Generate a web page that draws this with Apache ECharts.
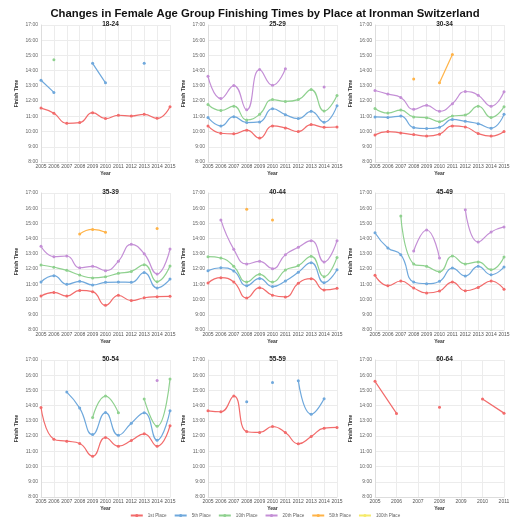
<!DOCTYPE html>
<html><head><meta charset="utf-8">
<script src="https://cdn.jsdelivr.net/npm/echarts@6/dist/echarts.min.js"></script>
<style>html,body{margin:0;padding:0;background:#fff}#c{width:530px;height:530px}</style>
</head><body><div id="c"></div>
<script>
const years = ['2005','2006','2007','2008','2009','2010','2011','2012','2013','2014','2015'];
const years6064 = ['2005','2006','2007','2008','2009','2010','2011'];
const places = ['1st Place','5th Place','10th Place','20th Place','50th Place','100th Place'];
const placeColors = ['#f26b6b','#6fa8dc','#8fd18f','#c48fd6','#ffb347','#f5ea6a'];
const yTicks = [8,9,10,11,12,13,14,15,16,17];
const groups = ['18-24','25-29','30-34','35-39','40-44','45-49','50-54','55-59','60-64'];

// values in hours, null = no finisher at that place
const g1824_1st = [11.54,11.2,10.54,10.59,11.24,10.85,11.07,11.02,11.13,10.87,11.63];
const g1824_5th = [13.37,12.57,null,null,14.48,13.2,null,null,14.48,null,null];
const g1824_10th = [null,14.72,null,null,null,null,null,null,null,null,null];

const g2529_1st = [10.37,9.89,9.85,10.09,9.57,10.37,10.24,10.0,10.46,10.28,10.3];
const g2529_5th = [10.93,10.37,10.98,10.59,10.63,11.5,11.11,10.85,11.33,10.61,11.7];
const g2529_10th = [11.78,11.39,11.67,10.76,11.13,12.1,11.98,12.1,12.76,11.35,12.37];
const g2529_20th = [13.63,12.17,13.02,11.43,14.07,13.04,14.13,null,null,12.93,null];

const g3034_1st = [9.78,10.0,9.91,9.8,9.7,9.83,10.37,10.3,9.87,9.7,10.0];
const g3034_5th = [10.96,10.93,11.02,10.26,10.2,10.28,10.8,10.67,10.52,10.22,11.13];
const g3034_10th = [11.52,11.22,11.41,10.96,10.91,10.65,11.02,11.09,11.67,10.93,11.63];
const g3034_20th = [12.7,12.46,12.24,11.46,11.72,11.33,11.83,12.63,12.39,11.67,12.61];
const g3034_50th = [null,null,null,13.46,null,13.2,15.07,null,null,null,null];

const g3539_1st = [10.23,10.47,10.23,10.6,10.52,9.62,10.28,9.93,10.12,10.19,10.21];
const g3539_5th = [11.15,11.57,11.0,11.2,10.96,11.13,11.15,11.13,11.77,10.76,11.35];
const g3539_10th = [12.27,12.12,11.92,11.61,11.42,11.5,11.72,11.85,12.29,11.17,12.2];
const g3539_20th = [13.5,12.82,12.86,12.09,12.18,11.9,12.51,13.63,13.01,11.68,13.32];
const g3539_50th = [null,null,null,14.31,14.61,14.42,null,null,null,14.66,null];

const g4044_1st = [11.09,11.44,11.15,10.1,10.78,10.28,10.17,11.07,11.37,10.63,10.74];
const g4044_5th = [11.9,12.09,11.88,10.91,11.39,10.85,11.22,11.79,12.42,11.11,11.96];
const g4044_10th = [12.82,12.73,12.18,11.15,11.66,11.15,11.94,12.23,12.84,11.5,12.77];
const g4044_20th = [null,15.23,13.3,12.34,12.51,12.03,12.95,13.43,13.87,12.47,13.87];
const g4044_50th = [null,null,null,15.93,null,15.23,null,null,null,null,null];

const g4549_1st = [11.59,10.91,11.22,10.76,10.43,10.56,11.15,10.58,10.8,11.22,10.67];
const g4549_5th = [14.39,13.39,12.95,11.15,11.04,11.2,12.07,11.55,12.18,11.63,12.14];
const g4549_10th = [null,null,15.49,12.34,12.18,11.83,12.86,12.34,12.47,11.96,12.8];
const g4549_20th = [null,null,null,13.19,14.57,12.73,null,15.9,13.78,14.44,14.77];

const g5054_1st = [13.88,11.8,11.67,11.51,10.68,11.91,11.34,11.71,12.15,11.34,12.68];
const g5054_5th = [null,null,14.89,13.84,12.1,13.55,12.06,12.85,13.53,11.73,13.66];
const g5054_10th = [null,null,null,null,13.22,14.63,13.53,null,14.43,12.65,15.75];
const g5054_20th = [null,null,null,null,null,null,null,null,null,15.66,null];

const g5559_1st = [13.66,13.6,14.63,12.3,12.24,12.63,12.24,11.49,11.97,12.52,12.57];
const g5559_5th = [null,null,null,14.26,null,15.53,null,15.64,13.44,14.45,null];

const g6064_1st = [15.6,13.49,null,13.9,null,14.43,13.51];

const panelSeries = [
  [g1824_1st,g1824_5th,g1824_10th],
  [g2529_1st,g2529_5th,g2529_10th,g2529_20th],
  [g3034_1st,g3034_5th,g3034_10th,g3034_20th,g3034_50th],
  [g3539_1st,g3539_5th,g3539_10th,g3539_20th,g3539_50th],
  [g4044_1st,g4044_5th,g4044_10th,g4044_20th,g4044_50th],
  [g4549_1st,g4549_5th,g4549_10th,g4549_20th],
  [g5054_1st,g5054_5th,g5054_10th,g5054_20th],
  [g5559_1st,g5559_5th],
  [g6064_1st]
];
const panelYears = [years,years,years,years,years,years,years,years,years6064];

const colLeft = [41,208,375], rowTop = [25,193,360];
const W = 129, H = 137;
const FONT = 'Liberation Sans';
const grids=[], xAxes=[], yAxes=[], series=[], titles=[];
titles.push({text:'Changes in Female Age Group Finishing Times by Place at Ironman Switzerland',
  left:'center', top:3, textStyle:{fontFamily:FONT,fontSize:11.3,fontWeight:'bold',color:'#111'}});
groups.forEach((g,i)=>{
  const c=i%3, r=Math.floor(i/3);
  grids.push({left:colLeft[c], top:rowTop[r], width:W, height:H});
  titles.push({text:g, left:colLeft[c]+W/2, top:rowTop[r]-9, textAlign:'center',
    textStyle:{fontFamily:FONT,fontSize:6.5,fontWeight:'bold',color:'#222'}});
  xAxes.push({type:'category', gridIndex:i, data:panelYears[i], boundaryGap:false,
    name:'Year', nameLocation:'middle', nameGap:9,
    nameTextStyle:{fontFamily:FONT,fontSize:5,fontWeight:'bold',color:'#333'},
    axisLine:{lineStyle:{color:'#ddd'}}, axisTick:{show:false},
    axisLabel:{fontFamily:FONT,fontSize:5,color:'#555',margin:2,interval:0},
    splitLine:{show:true,lineStyle:{color:'#ececec',width:1}}});
  yAxes.push({type:'value', gridIndex:i, min:yTicks[0], max:yTicks[yTicks.length-1], interval:1,
    name:'Finish Time', nameLocation:'middle', nameGap:22,
    nameTextStyle:{fontFamily:FONT,fontSize:5,fontWeight:'bold',color:'#333'},
    axisLine:{show:true,lineStyle:{color:'#ddd'}}, axisTick:{show:false},
    axisLabel:{fontFamily:FONT,fontSize:5,color:'#666',margin:3,formatter:v=>v+':00'},
    splitLine:{show:true,lineStyle:{color:'#ececec',width:1}}});
  panelSeries[i].forEach((d,k)=>{
    series.push({name:places[k], type:'line', xAxisIndex:i, yAxisIndex:i, data:d,
      smooth:0.5, connectNulls:false, symbol:'circle', symbolSize:3, showSymbol:true,
      itemStyle:{color:placeColors[k]}, lineStyle:{width:1.2,color:placeColors[k]},
      emphasis:{disabled:true}, animation:false});
  });
});
// ensure every place appears in legend
places.forEach((p,k)=>{
  if(!series.some(s=>s.name===p)) series.push({name:p,type:'line',xAxisIndex:0,yAxisIndex:0,data:[],
    symbol:'circle',symbolSize:3,itemStyle:{color:placeColors[k]},lineStyle:{width:1.2,color:placeColors[k]},animation:false});
});
const chart = echarts.init(document.getElementById('c'));
chart.setOption({
  animation:false,
  title:titles,
  grid:grids, xAxis:xAxes, yAxis:yAxes, series:series,
  legend:{data:places, bottom:7, left:'center', itemWidth:12, itemHeight:4, itemGap:7,
    textStyle:{fontFamily:FONT,fontSize:4.6,color:'#666'}}
});
</script></body></html>
